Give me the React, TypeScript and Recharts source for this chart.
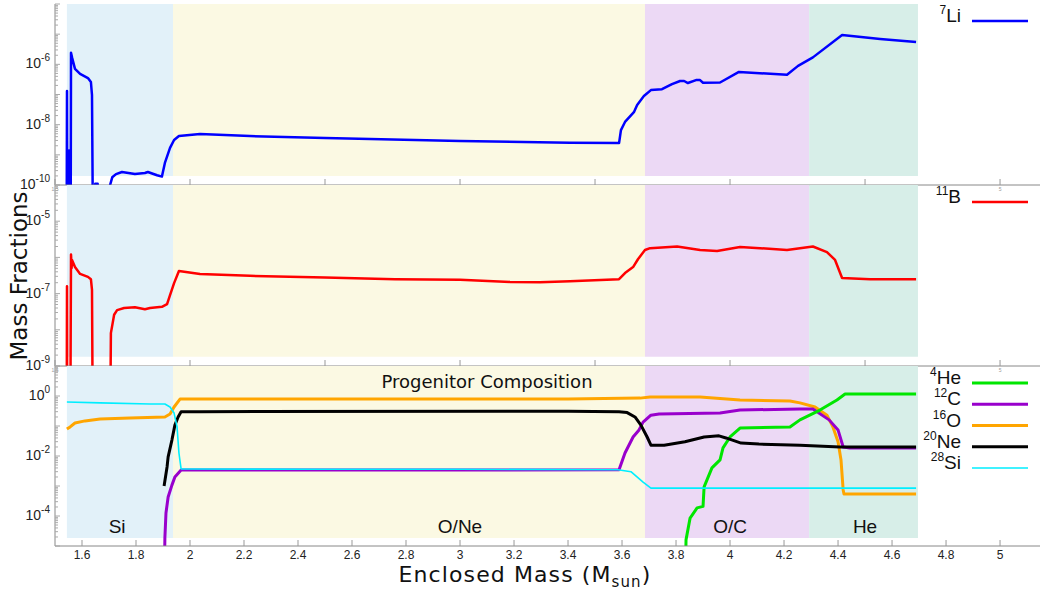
import React from 'react'
import { LineChart, Line, XAxis, YAxis, ReferenceArea, ReferenceLine, Legend } from 'recharts'

const FONT = 'Liberation Sans, Arial, sans-serif'
const FONT_TITLE = 'DejaVu Sans, Verdana, sans-serif'

const M_MIN = 1.5
const M_MAX = 5.148

// burning shells of the progenitor (enclosed mass, M_sun)
const zoneNames = ['Si', 'O/Ne', 'O/C', 'He']
const zoneEdges = [1.544, 1.937, 3.685, 4.293, 4.696]
const zoneColors = ['#e2f1f9', '#fbf9e3', '#ecd9f5', '#d7eee8']
const zoneLabelAt = [1.73, 3.0, 4.0, 4.5]

const coarseTicks = [1.5, 2, 2.5, 3, 3.5, 4, 4.5, 5]
const fineTicks = [1.6, 1.8, 2, 2.2, 2.4, 2.6, 2.8, 3, 3.2, 3.4, 3.6, 3.8, 4, 4.2, 4.4, 4.6, 4.8, 5]

// 7Li
const liMass = [1.543, 1.5444, 1.5455, 1.5505, 1.5519, 1.553, 1.558, 1.5593, 1.563, 1.574, 1.593, 1.622, 1.633, 1.637, 1.641, 1.648, 1.649, 1.658, 1.659, 1.703, 1.704, 1.712, 1.726, 1.748, 1.796, 1.833, 1.844, 1.878, 1.896, 1.907, 1.926, 1.941, 1.959, 2.037, 2.222, 2.5, 3.0, 3.407, 3.589, 3.596, 3.611, 3.644, 3.656, 3.681, 3.707, 3.748, 3.785, 3.815, 3.83, 3.844, 3.874, 3.889, 3.9, 3.963, 4.033, 4.211, 4.252, 4.307, 4.415, 4.556, 4.689]
const liVal = [1e-12, 1.3e-7, 1e-12, 1e-12, 1.4e-9, 1e-12, 1e-12, 2.4e-6, 1.7e-6, 7.1e-7, 4.8e-7, 3.5e-7, 2.6e-7, 9.5e-8, 1e-12, 1e-12, 1.1e-10, 1.1e-10, 1e-12, 1e-12, 1.0e-10, 1.8e-10, 2.3e-10, 2.7e-10, 2.3e-10, 2.5e-10, 2.7e-10, 2.1e-10, 1.9e-10, 5.4e-10, 1.7e-9, 3.1e-9, 4.2e-9, 4.9e-9, 4.2e-9, 3.6e-9, 2.9e-9, 2.5e-9, 2.45e-9, 6.6e-9, 1.23e-8, 2.6e-8, 4.5e-8, 8.9e-8, 1.4e-7, 1.5e-7, 2.2e-7, 2.8e-7, 2.8e-7, 2.4e-7, 3.0e-7, 3.0e-7, 2.45e-7, 2.5e-7, 5.6e-7, 4.5e-7, 8.9e-7, 1.7e-6, 9.3e-6, 6.9e-6, 5.5e-6]

// 11B
const bMass = [1.543, 1.5444, 1.5455, 1.556, 1.5593, 1.5615, 1.563, 1.574, 1.593, 1.622, 1.633, 1.637, 1.641, 1.703, 1.707, 1.719, 1.73, 1.756, 1.796, 1.833, 1.852, 1.896, 1.915, 1.926, 1.941, 1.959, 2.037, 2.222, 2.5, 2.759, 3.0, 3.185, 3.296, 3.407, 3.589, 3.611, 3.641, 3.659, 3.685, 3.704, 3.804, 3.889, 3.952, 4.037, 4.211, 4.307, 4.359, 4.389, 4.415, 4.519, 4.689]
const bVal = [1e-12, 1.6e-7, 1e-12, 1e-12, 1.2e-6, 5e-7, 8.5e-7, 5.4e-7, 3.5e-7, 2.9e-7, 2.5e-7, 1.26e-7, 1e-12, 1e-12, 8.1e-9, 2.6e-8, 3.5e-8, 4.0e-8, 4.2e-8, 3.7e-8, 4.0e-8, 4.3e-8, 5.1e-8, 9.1e-8, 1.95e-7, 4.2e-7, 3.5e-7, 3.1e-7, 2.8e-7, 2.5e-7, 2.4e-7, 2.1e-7, 2.05e-7, 2.2e-7, 2.5e-7, 3.7e-7, 5.4e-7, 8.9e-7, 1.6e-6, 1.8e-6, 2.0e-6, 1.6e-6, 1.5e-6, 1.95e-6, 1.6e-6, 2.0e-6, 1.4e-6, 8.5e-7, 2.7e-7, 2.5e-7, 2.5e-7]

// progenitor composition
const heMass = [3.835, 3.837, 3.852, 3.878, 3.9, 3.904, 3.933, 3.963, 3.974, 4.0, 4.037, 4.222, 4.259, 4.333, 4.396, 4.426, 4.481, 4.689]
const heVal = [1e-6, 1.6e-5, 8.5e-5, 1.86e-4, 2.1e-4, 9.3e-4, 0.004, 0.0074, 0.0186, 0.043, 0.085, 0.093, 0.16, 0.34, 0.74, 1.17, 1.17, 1.17]

const cMass = [1.905, 1.907, 1.911, 1.919, 1.933, 1.944, 1.967, 2.5, 3.0, 3.589, 3.611, 3.641, 3.663, 3.678, 3.707, 3.737, 3.963, 4.037, 4.259, 4.307, 4.367, 4.4, 4.419, 4.444, 4.689]
const cVal = [1e-6, 1.9e-5, 1.26e-4, 4.3e-4, 1.07e-3, 2.0e-3, 3.4e-3, 3.4e-3, 3.4e-3, 3.5e-3, 0.0126, 0.043, 0.074, 0.135, 0.23, 0.25, 0.27, 0.34, 0.37, 0.37, 0.16, 0.074, 0.02, 0.0186, 0.0186]

const oMass = [1.544, 1.556, 1.574, 1.611, 1.667, 1.778, 1.907, 1.926, 1.941, 1.963, 2.037, 3.4, 3.667, 3.704, 3.889, 4.037, 4.222, 4.259, 4.315, 4.359, 4.381, 4.4, 4.411, 4.419, 4.422, 4.689]
const oVal = [0.079, 0.093, 0.126, 0.148, 0.17, 0.186, 0.2, 0.25, 0.43, 0.79, 0.79, 0.79, 0.85, 0.93, 0.93, 0.74, 0.68, 0.59, 0.43, 0.23, 0.093, 0.03, 0.0074, 0.00074, 0.00054, 0.00054]

const neMass = [1.904, 1.915, 1.919, 1.933, 1.944, 1.956, 1.967, 2.037, 3.4, 3.589, 3.619, 3.648, 3.67, 3.693, 3.707, 3.756, 3.833, 3.904, 3.959, 3.985, 4.041, 4.107, 4.259, 4.407, 4.689]
const neVal = [0.001, 0.0043, 0.0093, 0.034, 0.107, 0.2, 0.3, 0.3, 0.31, 0.3, 0.28, 0.2, 0.107, 0.043, 0.023, 0.023, 0.03, 0.043, 0.047, 0.04, 0.027, 0.025, 0.023, 0.02, 0.02]

const siMass = [1.544, 1.667, 1.852, 1.907, 1.926, 1.941, 1.952, 1.959, 1.967, 2.5, 3.0, 3.585, 3.633, 3.678, 3.707, 4.3, 4.689]
const siVal = [0.63, 0.59, 0.54, 0.54, 0.43, 0.27, 0.093, 0.0126, 0.0037, 0.0036, 0.0036, 0.0035, 0.003, 0.00135, 0.00085, 0.00085, 0.00085]

type Pt = { m: number; v: number }
type Series = { name: string; a: string; el: string; color: string; width: number; data: Pt[] }

const zip = (ms: number[], vs: number[]): Pt[] => ms.map((m, i) => ({ m, v: vs[i] }))

const liSeries: Series[] = [{ name: '7Li', a: '7', el: 'Li', color: '#0000ff', width: 2.5, data: zip(liMass, liVal) }]
const bSeries: Series[] = [{ name: '11B', a: '11', el: 'B', color: '#ff0000', width: 2.5, data: zip(bMass, bVal) }]
// drawing order (later on top)
const progSeries: Series[] = [
  { name: '16O', a: '16', el: 'O', color: '#ffa500', width: 3, data: zip(oMass, oVal) },
  { name: '12C', a: '12', el: 'C', color: '#9900cc', width: 3, data: zip(cMass, cVal) },
  { name: '4He', a: '4', el: 'He', color: '#00e600', width: 3, data: zip(heMass, heVal) },
  { name: '20Ne', a: '20', el: 'Ne', color: '#000000', width: 3, data: zip(neMass, neVal) },
  { name: '28Si', a: '28', el: 'Si', color: '#00eeff', width: 1.6, data: zip(siMass, siVal) },
]
const progOrder = ['4He', '12C', '16O', '20Ne', '28Si']

function logTicks(lo: number, hi: number) {
  const out: number[] = []
  for (let e = lo; e < hi; e++) for (let k = 1; k < 10; k++) out.push(k * Math.pow(10, e))
  out.push(Math.pow(10, hi))
  return out
}

const fmt = (v: number) => String(Number(v.toFixed(1)))
// small tick labels of the upper panels sit under the shell bands of the panel below
const outsideZones = (v: number) => v < zoneEdges[0] || v > zoneEdges[zoneEdges.length - 1]

function XTick(props: any) {
  const { x, y, payload, kind } = props
  const v = payload.value
  if (kind === 'label')
    return (
      <g>
        <line x1={x} x2={x} y1={y} y2={y - 6} stroke="#999" />
        <text x={x} y={y + 13} textAnchor="middle" fontSize={12} fontFamily={FONT} fill="#222">{fmt(v)}</text>
      </g>
    )
  if (kind === 'tiny')
    return (
      <g>
        <line x1={x} x2={x} y1={y} y2={y - 6} stroke="#999" />
        {outsideZones(v) && (
          <text x={x} y={y + 6} textAnchor="middle" fontSize={5} fontFamily={FONT} fill="#999">{fmt(v)}</text>
        )}
      </g>
    )
  if (kind === 'top') return <line x1={x} x2={x} y1={y} y2={y + 5} stroke="#999" />
  return <line x1={x} x2={x} y1={y} y2={y + 2} stroke="#999" />
}

function YTick(props: any) {
  const { x, y, payload, side, labelled } = props
  const lg = Math.log10(payload.value)
  const e = Math.round(lg)
  const major = Math.abs(lg - e) < 1e-6
  const dir = side === 'right' ? -1 : 1
  const len = major ? 5 : 3
  return (
    <g>
      <line x1={x} x2={x + dir * len} y1={y} y2={y} stroke="#aaa" />
      {side === 'left' && major && labelled.includes(e) && (
        <text x={x - 5} y={y + 4} textAnchor="end" fontSize={14} fontFamily={FONT} fill="#222">
          10<tspan fontSize={10} dy={-7}>{String(e)}</tspan>
        </text>
      )}
    </g>
  )
}

function IsoLegend({ payload, series, order, y0 }: any) {
  const names: string[] = order ?? series.map((s: Series) => s.name)
  const items = names.map((n) => (payload ?? []).find((p: any) => p.value === n)).filter(Boolean)
  return (
    <svg width={1040} height={y0 + items.length * 22 + 6} style={{ display: 'block', overflow: 'visible' }}>
      {items.map((it: any, i: number) => {
        const s = series.find((q: Series) => q.name === it.value) as Series
        const y = y0 + i * 21.25
        return (
          <g key={s.name}>
            <text x={961} y={y + 1} textAnchor="end" fontSize={19} fontFamily={FONT} fill="#111">
              <tspan fontSize={12} dy={-8}>{s.a}</tspan>
              <tspan dy={8}>{s.el}</tspan>
            </text>
            <line x1={972} x2={1028} y1={y} y2={y} stroke={it.color} strokeWidth={s.width} />
          </g>
        )
      })}
    </svg>
  )
}

type PanelProps = {
  top: number
  height: number
  marginTop: number
  axisH: number
  yDomain: [number, number]
  yExp: [number, number]
  labelled: number[]
  floor: number
  series: Series[]
  order?: string[]
  legendY: number
  kind: 'first' | 'middle' | 'last'
}

function Panel({ top, height, marginTop, axisH, yDomain, yExp, labelled, floor, series, order, legendY, kind }: PanelProps) {
  const yTicks = logTicks(yExp[0], yExp[1])
  const last = kind === 'last'
  return (
    <div style={{ position: 'absolute', left: 0, top, width: 1040, height }}>
      <LineChart width={1040} height={height} margin={{ top: marginTop, right: 0, bottom: 0, left: 0 }}>
        {zoneNames.map((z, i) => (
          <ReferenceArea
            key={z}
            x1={zoneEdges[i]}
            x2={zoneEdges[i + 1]}
            y1={floor}
            y2={yDomain[1]}
            fill={zoneColors[i]}
            fillOpacity={1}
            stroke="none"
          />
        ))}
        <XAxis
          type="number"
          dataKey="m"
          domain={[M_MIN, M_MAX]}
          allowDataOverflow
          ticks={last ? fineTicks : coarseTicks}
          interval={0}
          height={axisH}
          tickSize={0}
          tickMargin={0}
          tickLine={false}
          axisLine={{ stroke: '#888' }}
          tick={(p: any) => <XTick {...p} kind={last ? 'label' : 'tiny'} />}
        />
        <XAxis
          xAxisId="top"
          orientation="top"
          type="number"
          dataKey="m"
          domain={[M_MIN, M_MAX]}
          allowDataOverflow
          ticks={kind === 'first' ? coarseTicks : last ? fineTicks : []}
          interval={0}
          height={0}
          tickSize={0}
          tickMargin={0}
          tickLine={false}
          axisLine={{ stroke: '#888' }}
          tick={(p: any) => <XTick {...p} kind={kind === 'first' ? 'top' : 'short'} />}
        />
        <YAxis
          type="number"
          scale="log"
          domain={yDomain}
          allowDataOverflow
          ticks={yTicks}
          interval={0}
          width={55}
          tickSize={0}
          tickMargin={0}
          tickLine={false}
          axisLine={{ stroke: '#888' }}
          tick={(p: any) => <YTick {...p} side="left" labelled={labelled} />}
        />
        <YAxis
          yAxisId="r"
          orientation="right"
          type="number"
          scale="log"
          domain={yDomain}
          allowDataOverflow
          ticks={yTicks}
          interval={0}
          width={0}
          tickSize={0}
          tickMargin={0}
          tickLine={false}
          axisLine={false}
          tick={(p: any) => <YTick {...p} side="right" labelled={labelled} />}
        />
        {last &&
          zoneNames.map((z, i) => (
            <ReferenceLine
              key={'lbl' + z}
              x={zoneLabelAt[i]}
              stroke="none"
              label={{ value: z, position: 'insideBottom', offset: 13, fontSize: 19, fill: '#111', fontFamily: FONT }}
            />
          ))}
        {last && (
          <ReferenceLine
            x={3.1}
            stroke="none"
            label={{ value: 'Progenitor Composition', position: 'insideTop', offset: 9, fontSize: 18, fill: '#111', fontFamily: FONT_TITLE }}
          />
        )}
        {series.map((s) => (
          <Line
            key={s.name}
            data={s.data}
            dataKey="v"
            name={s.name}
            type="linear"
            stroke={s.color}
            strokeWidth={s.width}
            strokeLinejoin="round"
            dot={false}
            activeDot={false}
            isAnimationActive={false}
          />
        ))}
        <Legend
          verticalAlign="middle"
          align="center"
          wrapperStyle={{ left: 0, top: 0, width: 1040 }}
          content={(p: any) => <IsoLegend payload={p.payload} series={series} order={order} y0={legendY} />}
        />
      </LineChart>
    </div>
  )
}

export default function App() {
  return (
    <div style={{ position: 'absolute', left: 0, top: 0, width: 1040, height: 597, background: '#fff', overflow: 'hidden' }}>
      <Panel top={0} height={200} marginTop={4} axisH={15} yDomain={[1e-10, 1e-4]} yExp={[-10, -4]} labelled={[-10, -8, -6]} floor={2e-10} series={liSeries} legendY={21} kind="first" />
      <Panel top={180} height={200} marginTop={5} axisH={14} yDomain={[1e-9, 1e-4]} yExp={[-9, -4]} labelled={[-9, -7, -5]} floor={1.8e-9} series={bSeries} legendY={22} kind="middle" />
      <Panel top={360} height={237} marginTop={6} axisH={51} yDomain={[1e-5, 10]} yExp={[-5, 1]} labelled={[-4, -2, 0]} floor={1.85e-5} series={progSeries} order={progOrder} legendY={23} kind="last" />
      <svg width={1040} height={597} style={{ position: 'absolute', left: 0, top: 0, pointerEvents: 'none' }}>
        <text transform="translate(27,276) rotate(-90)" textAnchor="middle" fontSize={23} fontFamily={FONT_TITLE} fill="#111">
          Mass Fractions
        </text>
        <text x={525} y={582} textAnchor="middle" fontSize={22} letterSpacing={1.1} fontFamily={FONT_TITLE} fill="#111">
          Enclosed Mass (M<tspan fontSize={15} dy={5}>sun</tspan>
          <tspan dy={-5}>)</tspan>
        </text>
      </svg>
    </div>
  )
}
